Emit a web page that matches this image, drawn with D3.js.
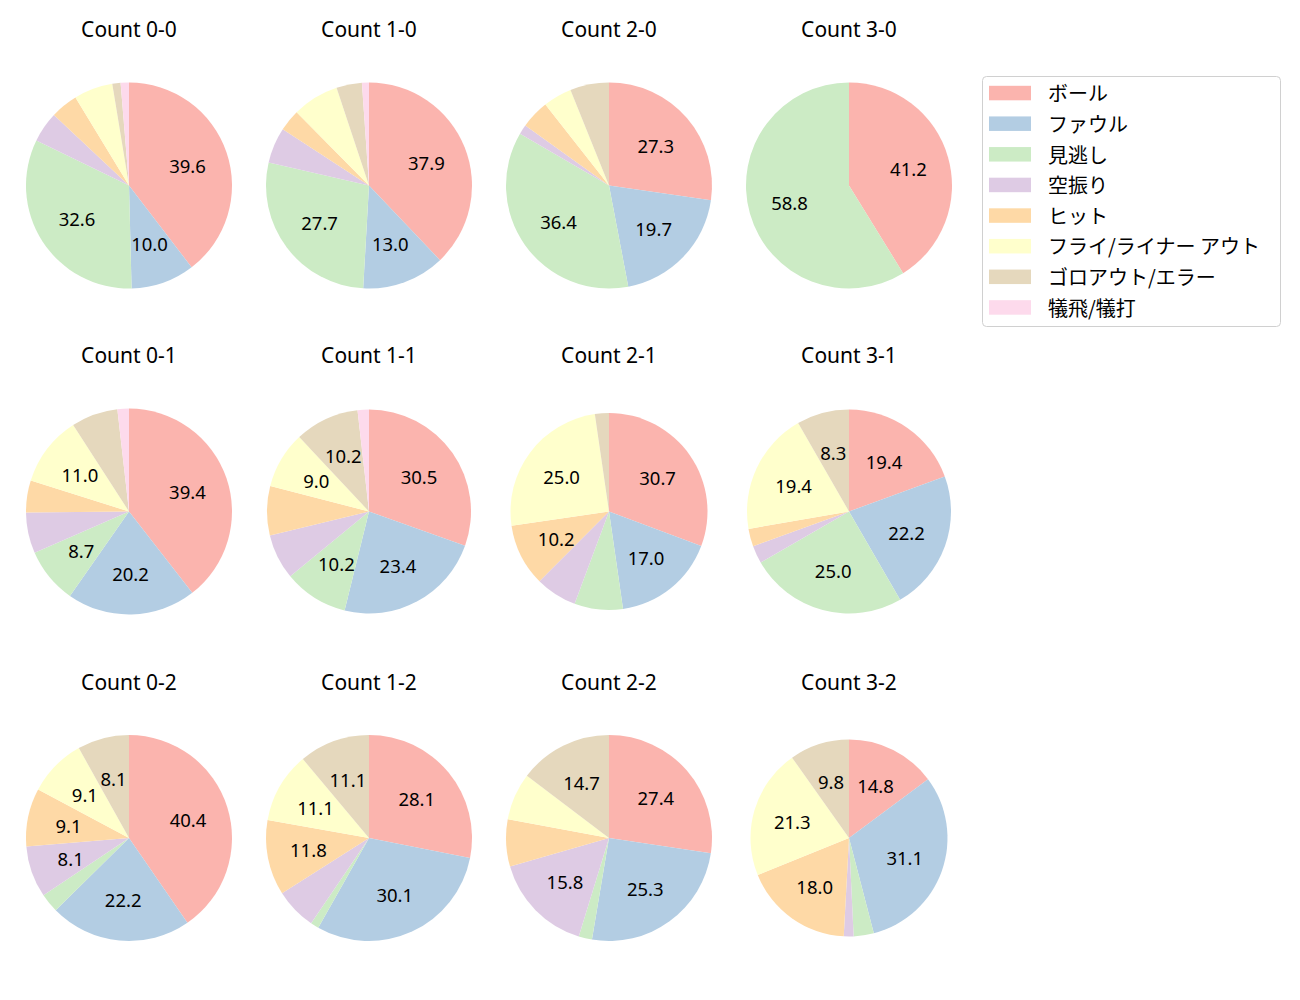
<!DOCTYPE html>
<html>
<head>
<meta charset="utf-8">
<script src="https://cdn.jsdelivr.net/npm/d3@7"></script>
<style>
  html, body { margin: 0; padding: 0; background: #fff; }
  svg { display: block; }
  text { font-family: "Noto Sans CJK JP", "Noto Sans", sans-serif; fill: #000; }
  text.lat { font-family: "Noto Sans", "Noto Sans CJK JP", sans-serif; }
</style>
</head>
<body>
<svg id="chart" width="1300" height="1000"></svg>
<script>
// ---- data ----
const categories = ["ボール", "ファウル", "見逃し", "空振り", "ヒット", "フライ/ライナー アウト", "ゴロアウト/エラー", "犠飛/犠打"];
const countLabels = ["0-0", "1-0", "2-0", "3-0", "0-1", "1-1", "2-1", "3-1", "0-2", "1-2", "2-2", "3-2"];

const count00 = [39.6, 10.0, 32.6, 4.8, 4.3, 6.1, 1.3, 1.3];
const count10 = [37.9, 13.0, 27.7, 5.6, 3.4, 7.3, 4.0, 1.1];
const count20 = [27.3, 19.7, 36.4, 1.5, 4.5, 4.5, 6.1, 0];
const count30 = [41.2, 0, 58.8, 0, 0, 0, 0, 0];
const count01 = [39.4, 20.2, 8.7, 6.4, 5.0, 11.0, 7.3, 1.8];
const count11 = [30.5, 23.4, 10.2, 7.2, 7.8, 9.0, 10.2, 1.8];
const count21 = [30.7, 17.0, 7.95, 6.8, 10.2, 25.0, 2.3, 0];
const count31 = [19.4, 22.2, 25.0, 2.8, 2.8, 19.4, 8.3, 0];
const count02 = [40.4, 22.2, 3.0, 8.1, 9.1, 9.1, 8.1, 0];
const count12 = [28.1, 30.1, 1.3, 6.5, 11.8, 11.1, 11.1, 0];
const count22 = [27.4, 25.3, 2.1, 15.8, 7.4, 7.4, 14.7, 0];
const count32 = [14.8, 31.1, 3.3, 1.6, 18.0, 21.3, 9.8, 0];

const seriesByCount = [count00, count10, count20, count30, count01, count11, count21, count31, count02, count12, count22, count32];

// ---- style / layout ----
const colors = ["#fbb4ae", "#b3cde3", "#ccebc5", "#decbe4", "#fed9a6", "#ffffcc", "#e5d8bd", "#fddaec"];
const colX = [129, 369, 609, 849];
const rowY = [185.5, 511.5, 838];
const radii = [103, 103, 103, 103, 103, 102, 98.5, 102, 103, 103, 103, 98.5];
const titleOffset = 156.5;
const labelThreshold = 8;

const svg = d3.select("#chart");
const color = d3.scaleOrdinal().domain(categories).range(colors);
const pie = d3.pie().sort(null).value(d => d).startAngle(0).endAngle(2 * Math.PI);

seriesByCount.forEach((vals, i) => {
  const cx = colX[i % 4];
  const cy = rowY[Math.floor(i / 4)];
  const r = radii[i];
  const g = svg.append("g").attr("transform", `translate(${cx},${cy})`);
  const arc = d3.arc().innerRadius(0).outerRadius(r);
  const labelArc = d3.arc().innerRadius(r * 0.6).outerRadius(r * 0.6);
  const arcs = pie(vals);

  g.selectAll("path")
    .data(arcs.filter(d => d.value > 0))
    .join("path")
    .attr("d", arc)
    .attr("fill", d => color(categories[d.index]));

  g.selectAll("text.lbl")
    .data(arcs.filter(d => d.value >= labelThreshold))
    .join("text")
    .attr("class", "lbl lat")
    .attr("transform", d => `translate(${labelArc.centroid(d)})`)
    .attr("text-anchor", "middle")
    .attr("dominant-baseline", "central")
    .style("font-size", "18.5px")
    .text(d => d.value.toFixed(1));

  svg.append("text")
    .attr("class", "lat")
    .attr("x", cx)
    .attr("y", rowY[Math.floor(i / 4)] - titleOffset)
    .attr("text-anchor", "middle")
    .attr("dominant-baseline", "central")
    .style("font-size", "21px")
    .text("Count " + countLabels[i]);
});

// ---- legend ----
const legend = svg.append("g");
legend.append("rect")
  .attr("x", 982.5).attr("y", 76.5)
  .attr("width", 298).attr("height", 250)
  .attr("rx", 4).attr("ry", 4)
  .attr("fill", "#fff").attr("stroke", "#d0d0d0").attr("stroke-width", 1);

const legY = d3.scaleLinear().domain([0, categories.length - 1]).range([92.8, 307.2]);
categories.forEach((c, i) => {
  legend.append("rect")
    .attr("x", 989).attr("y", legY(i) - 7)
    .attr("width", 42).attr("height", 14.5)
    .attr("fill", color(c));
  legend.append("text")
    .attr("x", 1048).attr("y", legY(i))
    .attr("dominant-baseline", "central")
    .style("font-size", "20px")
    .text(c);
});
</script>
</body>
</html>
